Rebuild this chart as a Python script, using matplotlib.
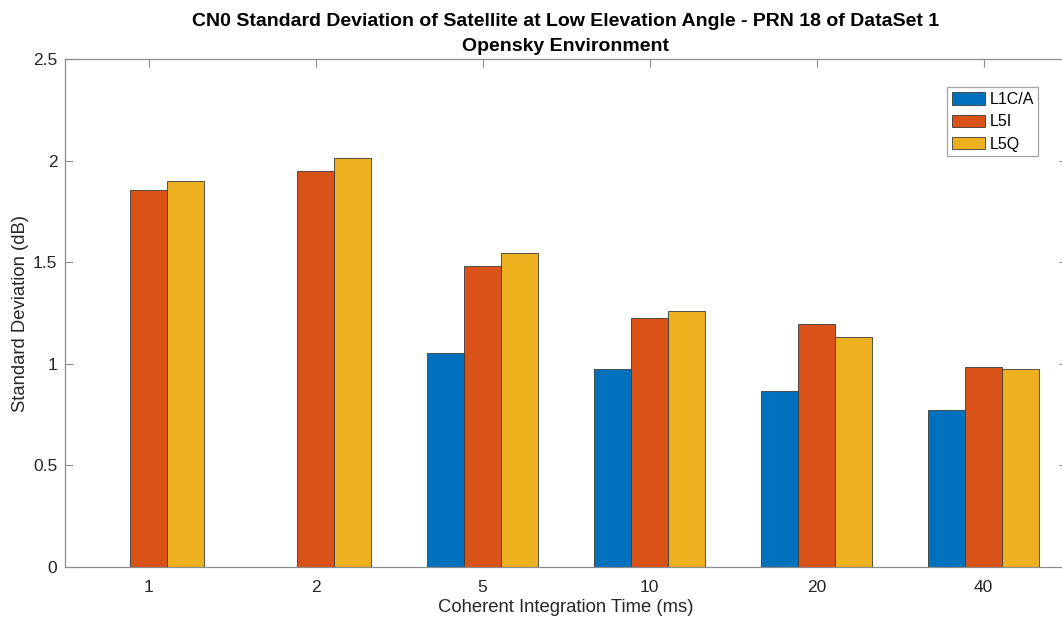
import matplotlib
matplotlib.use('Agg')
import matplotlib.pyplot as plt
import numpy as np

plt.rcParams['font.family'] = ['Liberation Sans', 'DejaVu Sans']

# CN0 standard deviation (dB) per coherent integration time
times = ['1', '2', '5', '10', '20', '40']
l1ca = [0, 0, 1.055, 0.973, 0.866, 0.771]
l5i = [1.855, 1.949, 1.481, 1.225, 1.197, 0.984]
l5q = [1.900, 2.011, 1.544, 1.261, 1.133, 0.976]
signals = ['L1C/A', 'L5I', 'L5Q']
colors = ['#0072BD', '#D95319', '#EDB120']

fig = plt.figure(figsize=(10.62, 6.19), dpi=100)
ax = fig.add_axes([65 / 1062, 1 - 567 / 619, 1002 / 1062, 508 / 619])

x = np.arange(1, len(times) + 1)
w = 0.22
for i, (vals, lab, c) in enumerate(zip([l1ca, l5i, l5q], signals, colors)):
    ax.bar(x + (i - 1) * w, vals, width=w, color=c, edgecolor='#3a3a3a',
           linewidth=0.6, label=lab, zorder=2)

ax.set_xlim(0.5, 6.5)
ax.set_ylim(0, 2.5)
ax.set_xticks(x)
ax.set_xticklabels(times)
ax.set_yticks([0, 0.5, 1, 1.5, 2, 2.5])
ax.set_yticklabels(['0', '0.5', '1', '1.5', '2', '2.5'])

for s in ax.spines.values():
    s.set_color('#8c8c8c')
    s.set_linewidth(0.9)
ax.tick_params(direction='in', length=6, width=0.8, color='#8c8c8c',
               labelsize=12.5, labelcolor='#262626', top=True, right=True)
ax.tick_params(axis='x', pad=9)
ax.tick_params(axis='y', pad=5.5)

ax.set_xlabel('Coherent Integration Time (ms)', fontsize=13.3, color='#262626', labelpad=3)
ax.set_ylabel('Standard Deviation (dB)', fontsize=13.3, color='#262626', labelpad=3)
ax.set_title('CN0 Standard Deviation of Satellite at Low Elevation Angle - PRN 18 of DataSet 1\n'
             'Opensky Environment', fontsize=14, fontweight='bold', color='black',
             linespacing=1.6, pad=6)

leg = ax.legend(loc='upper left', bbox_to_anchor=(882 / 1002, 0.944), fontsize=11.5,
                frameon=True, fancybox=False, handlelength=2.1, handleheight=0.85,
                handletextpad=0.25, borderpad=0.3, labelspacing=0.45, borderaxespad=0)
leg.get_frame().set_edgecolor('#8c8c8c')
leg.get_frame().set_linewidth(0.9)

fig.savefig('out.png', dpi=100)
